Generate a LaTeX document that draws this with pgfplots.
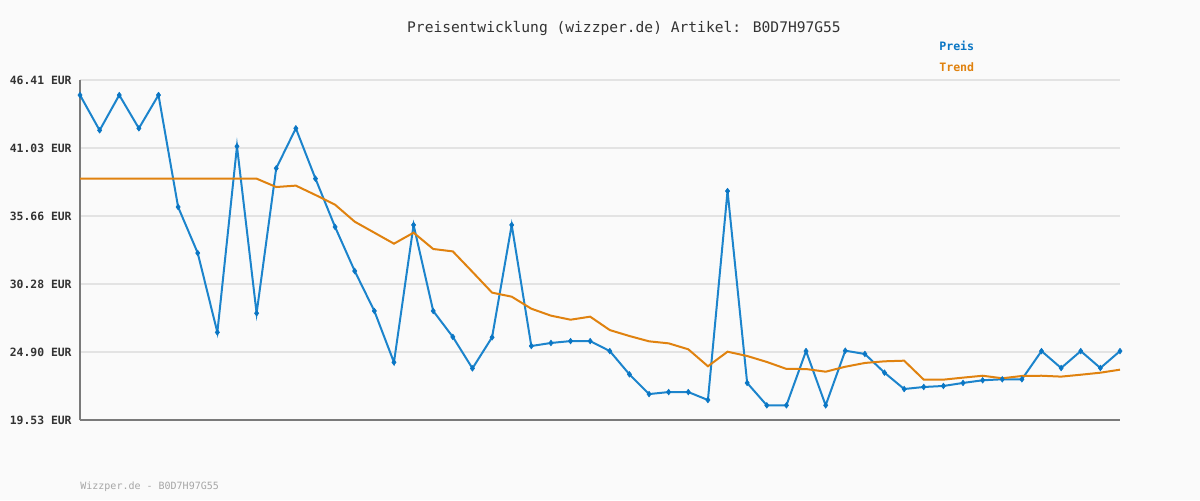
\documentclass[border=0pt]{standalone}
\usepackage{pgfplots}
\pgfplotsset{compat=1.18}
\usepackage{fontspec}
\setmainfont{DejaVu Sans Mono}

\definecolor{bg}{HTML}{FAFAFA}
\definecolor{preis}{HTML}{1C84CC}
\definecolor{preismark}{HTML}{0A76C4}
\definecolor{trend}{HTML}{E0820F}
\definecolor{gridc}{HTML}{E3E3E3}
\definecolor{axisc}{HTML}{7A7A7A}
\definecolor{txt}{HTML}{333333}

\begin{document}
\begin{tikzpicture}[x=1pt,y=1pt]
% background, 1px = 0.5pt
\fill[bg] (0,0) rectangle (600,250);

\begin{axis}[
  at={(40pt,40pt)}, anchor=south west,
  scale only axis, width=520pt, height=170pt,
  xmin=0, xmax=53, ymin=19.53, ymax=46.41,
  axis x line=bottom, axis y line=left,
  axis line style={axisc, line width=1pt, -},
  xtick=\empty,
  ytick={19.53,24.90,30.28,35.66,41.03,46.41},
  yticklabels={19.53 EUR,24.90 EUR,30.28 EUR,35.66 EUR,41.03 EUR,46.41 EUR},
  yticklabel style={font=\fontsize{5.7}{7}\selectfont\bfseries, text=txt, inner sep=0pt, xshift=-4pt},
  major tick length=0pt,
  ymajorgrids, grid style={gridc, line width=1pt},
  clip=false,
  legend style={at={(rel axis cs:0.822,1.128)}, anchor=north west, draw=none, fill=none,
    font=\fontsize{5.8}{7}\selectfont\bfseries, row sep=0.6pt, inner sep=0pt},
  legend cell align=left,
  legend image code/.code={},
]
\addplot[preis, line width=1pt, mark=diamond*, mark size=1.4pt,
  mark options={preismark, line width=0.3pt}] table {
x y
0 45.22
1 42.43
2 45.22
3 42.59
4 45.22
5 36.37
6 32.73
7 26.46
8 41.17
9 27.97
10 39.43
11 42.59
12 38.61
13 34.79
14 31.31
15 28.15
16 24.09
17 34.95
18 28.15
19 26.10
20 23.61
21 26.07
22 34.95
23 25.38
24 25.62
25 25.77
26 25.77
27 24.98
28 23.14
29 21.58
30 21.74
31 21.74
32 21.11
33 37.63
34 22.46
35 20.69
36 20.69
37 24.98
38 20.69
39 25.01
40 24.75
41 23.27
42 21.98
43 22.14
44 22.22
45 22.46
46 22.67
47 22.75
48 22.75
49 24.98
50 23.64
51 24.98
52 23.64
53 24.98
};
\addlegendentry{\textcolor{preismark}{Preis}}
\addplot[trend, line width=1pt, mark=none] table {
x y
0 38.61
1 38.61
2 38.61
3 38.61
4 38.61
5 38.61
6 38.61
7 38.61
8 38.61
9 38.61
10 37.95
11 38.06
12 37.32
13 36.55
14 35.21
15 34.34
16 33.47
17 34.34
18 33.05
19 32.86
20 31.24
21 29.60
22 29.28
23 28.33
24 27.78
25 27.46
26 27.70
27 26.64
28 26.17
29 25.75
30 25.59
31 25.12
32 23.78
33 24.93
34 24.59
35 24.12
36 23.57
37 23.56
38 23.35
39 23.74
40 24.04
41 24.17
42 24.22
43 22.72
44 22.72
45 22.88
46 23.03
47 22.83
48 23.01
49 23.03
50 22.96
51 23.11
52 23.27
53 23.51
};
\addlegendentry{\textcolor{trend}{Trend}}
\end{axis}

\node[font=\fontsize{7.3}{9}\selectfont, text=txt] at (312,236) {Preisentwicklung (wizzper.de) Artikel: B0D7H97G55};
\node[font=\fontsize{5}{7}\selectfont, text=black!35, anchor=west, inner sep=0pt] at (40,6.5) {Wizzper.de - B0D7H97G55};

\pgfresetboundingbox
\useasboundingbox (0,0) rectangle (600,250);
\end{tikzpicture}
\end{document}
